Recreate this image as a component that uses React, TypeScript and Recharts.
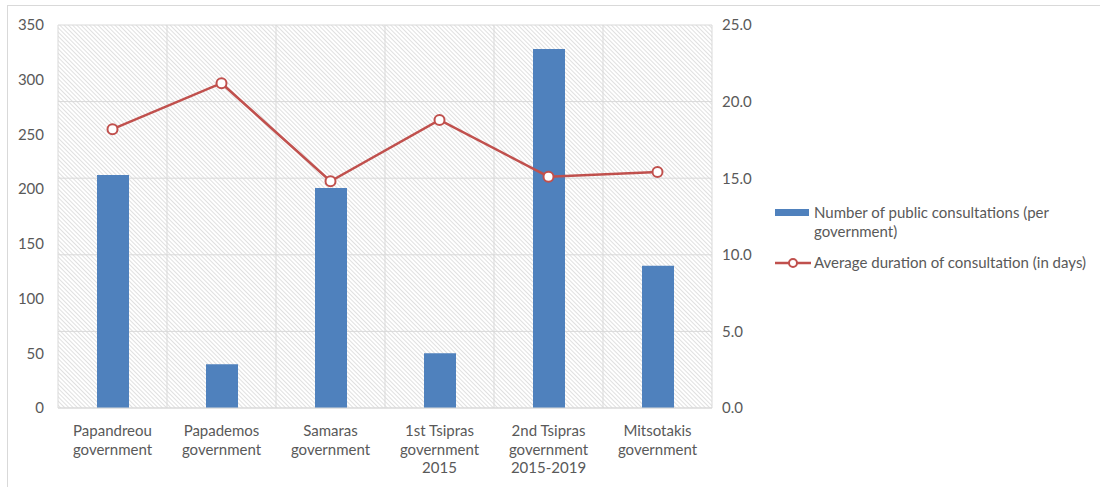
import React from 'react';
import { ComposedChart, Bar, Line, XAxis, YAxis, CartesianGrid } from 'recharts';

const governments = [
  'Papandreou\ngovernment',
  'Papademos\ngovernment',
  'Samaras\ngovernment',
  '1st Tsipras\ngovernment\n2015',
  '2nd Tsipras\ngovernment\n2015-2019',
  'Mitsotakis\ngovernment',
];
const consultations = [213, 40, 201, 50, 328, 130];
const avgDuration = [18.2, 21.2, 14.8, 18.8, 15.1, 15.4];

const countTicks = [0, 50, 100, 150, 200, 250, 300, 350];
const durationTicks = [0, 5, 10, 15, 20, 25];

const BAR_NAME = 'Number of public consultations (per government)';
const LINE_NAME = 'Average duration of consultation (in days)';

const BLUE = '#4f81bd';
const RED = '#c0504d';
const TEXT = '#595959';
const GRID = '#d9d9d9';
const FONT = 'Lato, "Open Sans", sans-serif';

const data = governments.map((name, i) => ({
  name,
  count: consultations[i],
  avg: avgDuration[i],
}));

const CategoryTick = (props: any) => {
  const { x, y, payload } = props;
  const lines = String(payload.value).split('\n');
  return (
    <text x={x} y={y} textAnchor="middle" fill={TEXT} fontSize={15} fontFamily={FONT}>
      {lines.map((l, i) => (
        <tspan key={i} x={x} dy={i === 0 ? 20 : 18.5}>{l}</tspan>
      ))}
    </text>
  );
};

// vertical grid lines sit on the category boundaries, not on the ticks
const boundaryLines = ({ offset }: any) => {
  const step = offset.width / governments.length;
  return governments.map((_, i) => offset.left + step * i).concat(offset.left + offset.width);
};

export default function App() {
  return (
    <div style={{ position: 'absolute', left: 0, top: 0, width: 1100, height: 487, overflow: 'hidden', background: '#fff' }}>
      <div style={{ position: 'absolute', left: 7, top: 5, width: 1200, height: 600, border: `1px solid ${GRID}` }} />
      <div style={{ position: 'absolute', left: 0, top: 0 }}>
        <ComposedChart
          width={1100}
          height={487}
          data={data}
          margin={{ top: 25, right: 343, bottom: 4, left: 8 }}
          barCategoryGap={0}
        >
          <defs>
            <pattern id="hatch" patternUnits="userSpaceOnUse" width="3" height="3" patternTransform="rotate(-45)">
              <rect width="3" height="3" fill="#ffffff" />
              <line x1="0.5" y1="0" x2="0.5" y2="3" stroke="#e0e0e0" strokeWidth="1" />
            </pattern>
          </defs>
          <CartesianGrid
            yAxisId="right"
            stroke={GRID}
            fill="url(#hatch)"
            fillOpacity={1}
            verticalCoordinatesGenerator={boundaryLines}
          />
          <XAxis
            dataKey="name"
            interval={0}
            height={75}
            axisLine={{ stroke: GRID }}
            tickLine={false}
            tick={<CategoryTick />}
          />
          <YAxis
            yAxisId="left"
            orientation="left"
            width={50}
            domain={[0, 350]}
            ticks={countTicks}
            axisLine={false}
            tickLine={false}
            tickMargin={8}
            tick={{ fill: TEXT, fontSize: 15, fontFamily: FONT }}
          />
          <YAxis
            yAxisId="right"
            orientation="right"
            width={45}
            domain={[0, 25]}
            ticks={durationTicks}
            axisLine={false}
            tickLine={false}
            tickMargin={4}
            tickFormatter={(v: number) => v.toFixed(1)}
            tick={{ fill: TEXT, fontSize: 15, fontFamily: FONT }}
          />
          <Bar yAxisId="left" dataKey="count" name={BAR_NAME} fill={BLUE} barSize={32} isAnimationActive={false} />
          <Line
            yAxisId="right"
            dataKey="avg"
            name={LINE_NAME}
            stroke={RED}
            strokeWidth={2.5}
            dot={{ r: 5, fill: '#fff', stroke: RED, strokeWidth: 2 }}
            isAnimationActive={false}
          />
        </ComposedChart>
      </div>
      <div style={{ position: 'absolute', left: 775, top: 203, width: 320, fontFamily: FONT, fontSize: 15, color: TEXT, lineHeight: '19px' }}>
        <div style={{ display: 'flex', alignItems: 'flex-start' }}>
          <span style={{ display: 'inline-block', width: 34, height: 7, background: BLUE, marginTop: 6, marginRight: 5, flexShrink: 0 }} />
          <span style={{ width: 275 }}>{BAR_NAME}</span>
        </div>
        <div style={{ display: 'flex', alignItems: 'center', marginTop: 12 }}>
          <svg width={36} height={12} style={{ marginRight: 3, flexShrink: 0 }}>
            <line x1={0} y1={6} x2={36} y2={6} stroke={RED} strokeWidth={2.5} />
            <circle cx={18} cy={6} r={4} fill="#fff" stroke={RED} strokeWidth={2} />
          </svg>
          <span style={{ whiteSpace: 'nowrap' }}>{LINE_NAME}</span>
        </div>
      </div>
    </div>
  );
}
